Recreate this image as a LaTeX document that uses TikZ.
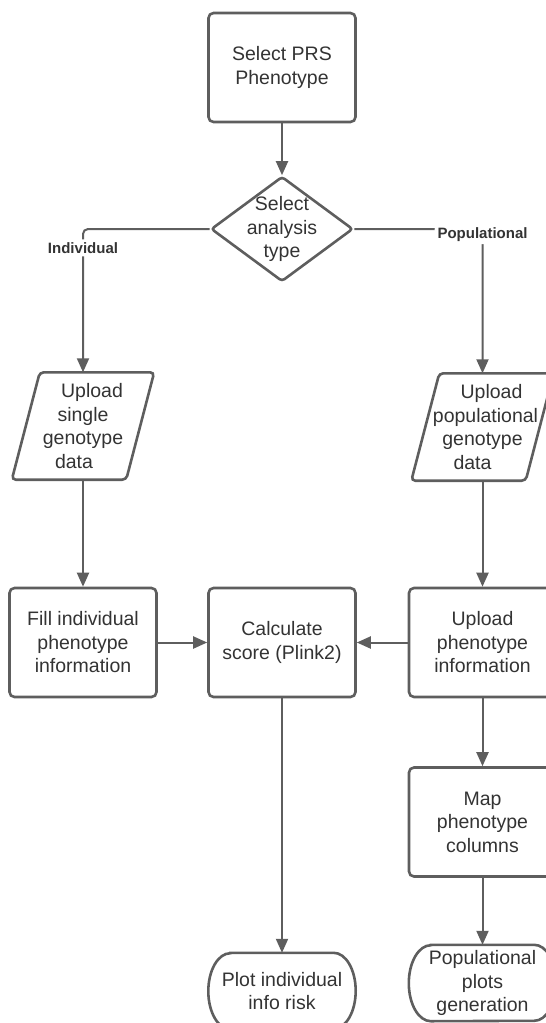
\documentclass[tikz,border=0pt]{standalone}
\usepackage{fontspec}
\setmainfont{Liberation Sans}
\usetikzlibrary{arrows.meta, shapes.geometric}
\definecolor{lineGray}{gray}{0.37}
\definecolor{textDark}{gray}{0.2}

\begin{document}
\begin{tikzpicture}[x=1pt, y=1pt, >={Triangle[length=14pt, width=12pt]},
    txt/.style={text=textDark, align=center, font=\fontsize{19.5}{23.5}\selectfont},
    box/.style={txt, draw=lineGray, line width=2.6pt, rounded corners=5pt,
        minimum width=147pt, minimum height=109pt, inner sep=2pt},
    decision/.style={diamond, draw=lineGray, line width=2.6pt, rounded corners=3pt,
        minimum width=142pt, minimum height=105pt, inner sep=0pt},
    datain/.style={txt, minimum width=114pt, minimum height=107pt, inner sep=0pt},
    terminal/.style={txt, minimum width=147pt, minimum height=76pt, inner sep=2pt},
    outline/.style={draw=lineGray, line width=2.6pt},
    conn/.style={->, draw=lineGray, line width=2pt},
    branch/.style={fill=white, text=textDark, inner sep=3pt,
        font=\bfseries\fontsize{15}{18}\selectfont}]
    \useasboundingbox (0,0) rectangle (546,-1023);
    \clip (0,0) rectangle (546,-1023);

    % Nodes
    \node[box] (start) at (282,-67.5) {Select PRS\\Phenotype};
    \node[decision, label={[txt]center:{Select\\analysis\\type}}] (choice) at (282,-229) {};
    \node[datain] (upsingle) at (83,-426)
        {\hspace*{18pt}Upload\\single\\genotype\hspace*{8pt}\\data\hspace*{18pt}};
    \node[datain] (uppop) at (482.5,-427)
        {\hspace*{18pt}Upload\\\hspace*{6pt}populational\\genotype\hspace*{6pt}\\data\hspace*{20pt}};
    \node[box] (fillpheno) at (83,-642.5) {Fill individual\\phenotype\\information};
    \node[box] (calc) at (282,-642.5) {Calculate\\score (Plink2)};
    \node[box] (uppheno) at (482.5,-642.5) {Upload\\phenotype\\information};
    \node[box] (mapcols) at (482.5,-822) {Map\\phenotype\\columns};
    \node[terminal] (plotind) at (282,-991) {Plot individual\\info risk};
    \node[terminal] (popplots) at (482.5,-983) {Populational\\plots\\generation};

    % Slanted and rounded outlines
    \foreach \d in {upsingle, uppop}
        \draw[outline, rounded corners=4pt] ([xshift=14pt]\d.north west) -- ([xshift=14pt]\d.north east)
            -- ([xshift=-14pt]\d.south east) -- ([xshift=-14pt]\d.south west) -- cycle;
    \foreach \t in {plotind, popplots}
        \draw[outline] ([xshift=22pt]\t.north west) -- ([xshift=-22pt]\t.north east)
            arc[start angle=90, end angle=-90, x radius=22pt, y radius=38pt]
            -- ([xshift=22pt]\t.south west)
            arc[start angle=270, end angle=90, x radius=22pt, y radius=38pt] -- cycle;

    % Connectors
    \draw[conn] (start) -- (choice);
    \draw[conn, rounded corners=5pt] (choice.west) -| node[branch, pos=0.566] {Individual} (upsingle.north);
    \draw[conn, rounded corners=5pt] (choice.east) -| node[branch, pos=0.518] {Populational} (uppop.north);
    \draw[conn] (upsingle) -- (fillpheno);
    \draw[conn] (uppop) -- (uppheno);
    \draw[conn] (fillpheno) -- (calc);
    \draw[conn] (uppheno) -- (calc);
    \draw[conn] (uppheno) -- (mapcols);
    \draw[conn] (mapcols) -- (popplots);
    \draw[conn] (calc) -- (plotind);
\end{tikzpicture}
\end{document}
